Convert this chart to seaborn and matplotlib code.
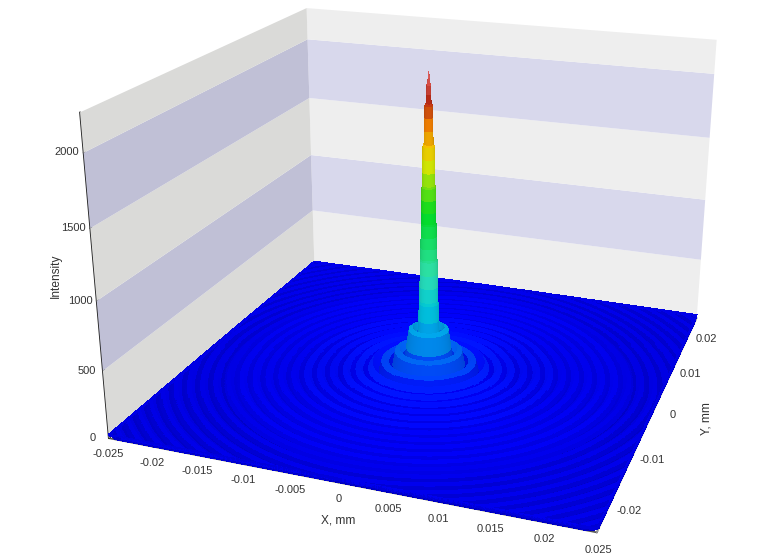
import numpy as np
import matplotlib
matplotlib.use("Agg")
import matplotlib.pyplot as plt
from matplotlib.colors import LinearSegmentedColormap
from matplotlib.transforms import offset_copy
from mpl_toolkits.mplot3d.art3d import Poly3DCollection
import seaborn as sns

x_ticks = [-0.025,-0.02,-0.015,-0.01,-0.005,0,0.005,0.01,0.015,0.02,0.025]
x_labels = ['-0.025','-0.02','-0.015','-0.01','-0.005','0','0.005','0.01','0.015','0.02','0.025']
y_ticks = [-0.02,-0.01,0,0.01,0.02]
y_labels = ['-0.02','-0.01','0','0.01','0.02']
z_ticks = [0,500,1000,1500,2000]
z_labels = ['0','500','1000','1500','2000']
z_top = 2260
band_edges = [0,500,1000,1500,2000,2260]
back_wall = ['#EEEEEE','#D8D8EC','#EEEEEE','#D8D8EC','#EEEEEE']
side_wall = ['#DADAD8','#C0C0D6','#DADAD8','#C0C0D6','#DADAD8']
extent = 0.025

# radial profile of the central peak and its first rings (mm, intensity)
centre_r = [0,.00004,.00008,.00016,.00020,.00024,.00036,.00039,.00042,.00045,.00057,.00060,.00062,.00064,.00068,.00070,.00072,.00074,.00077,.00079,.00081,.00083,.00088,.00090,.00092,.00094,.00100,.00106,.00114,.00125,
            .0016,.0018,.0021,.0024,.0027,.0029,.0032,.0036,.0039,.0041,.0044,.0047,.0051,.0054,.0055]
centre_z = [2265,2225,2190,2175,2110,2045,2030,1945,1850,1755,1740,1650,1550,1455,1440,1350,1260,1178,1163,1075,990,907,892,790,690,584,560,430,280,110,
            320,365,350,210,40,150,195,180,70,15,100,120,100,25,6]
# outer rings: crest, shoulder, trough, shoulder, ... stations
ring_r = [.0062,.00655,.0069,.00725,.0076,.00795,.0083,.00865,.0090,.00935,.0097,.01005,.0104,.01075,.0111,.01145,.0118,.01215,.0125,.01285,
          .0132,.01355,.0139,.01425,.0146,.01495,.0153,.01565,.0160,.01635,.0167,.01705,.0174,.01775,.0181,.01845,.0188,.01915,.0195,.01985,
          .0202,.02055,.0209,.02125,.0216,.02195,.0223,.02265,.0230,.02335,.0237,.02405,.0244,.02475,.0251,.02545,.0258,.02615,.0265,.02685,
          .0272,.02755,.0279,.02825,.0286,.02895,.0293,.02965,.0300,.03035,.0307,.03105,.0314,.03175,.0321,.03245,.0328,.03315,.0335,.03385,
          .0342,.03455,.0349,.03525,.0356]
ring_z = [90,47,4,40,75,39,3,34,65,33,2,30,58,30,2,27,52,26,1,25,
          48,24,1,23,45,23,1,22,42,21,1,21,40,20,1,20,38,19,0,18,
          36,18,0,18,35,18,0,17,34,17,0,17,33,17,0,16,32,16,0,16,
          31,16,0,15,30,15,0,15,30,15,0,15,29,15,0,15,29,14,0,14,
          28,14,0,14,28]
colour_levels = [0,10,25,50,100,190,340,540,800,1260,1635,1890,2070,2265]
colour_values = ['#0000D0','#0000E0','#0000F0','#0010FA','#0040F8','#0068F0','#00A0E8','#00C8D8','#30E0B0','#00DC20','#E6E600','#F08200','#B42814','#E06060']

sns.set_theme(style='white')
plt.rcParams['font.family']=['Liberation Sans','DejaVu Sans']
fig = plt.figure(figsize=(7.68,5.6),dpi=100,facecolor='white')
EL,AZ,FL,ZA,YA,S,L,B = 20.469,-69.900,0.3679,0.6758,0.9937,718.39,59.75,-37.46
ax = fig.add_axes([L/768,B/560,S/768,S/560],projection='3d',computed_zorder=False)
ax.set_box_aspect((1,YA,ZA))
ax.set_proj_type('persp',focal_length=FL)
ax.view_init(elev=EL,azim=AZ)
ax.set_xlim(-extent,extent); ax.set_ylim(-extent,extent); ax.set_zlim(0,z_top)
ax.patch.set_alpha(0)

for axis in (ax.xaxis,ax.yaxis,ax.zaxis):
    axis.set_pane_color((1,1,1,0))
    axis._axinfo['grid']['linewidth']=0
    axis._axinfo['grid']['color']=(1,1,1,0)
    axis.pane.set_edgecolor((1,1,1,0))
    axis._axinfo['tick']['inward_factor']=0
    axis._axinfo['tick']['outward_factor']=0.06
ax.xaxis.line.set_color('#555555'); ax.yaxis.line.set_color('#999999'); ax.zaxis.line.set_color('#222222')
ax.zaxis.set_ticks_position('lower'); ax.zaxis.set_label_position('lower')
ax.set_xticks(x_ticks,x_labels); ax.set_yticks(y_ticks,y_labels); ax.set_zticks(z_ticks,z_labels)
ax.tick_params(labelsize=8,colors='#333333',pad=-2)
ax.set_xlabel('X, mm',labelpad=-4,fontsize=8.6,color='#333333')
ax.set_ylabel('Y, mm',labelpad=-4,fontsize=8.6,color='#333333')
ax.set_zlabel('Intensity',labelpad=-4,fontsize=8.6,color='#333333')
ax.zaxis.set_rotate_label(False); ax.yaxis.set_rotate_label(False); ax.xaxis.set_rotate_label(False)
ax.yaxis.label.set_rotation(90); ax.zaxis.label.set_rotation(90); ax.xaxis.label.set_rotation(0)

def nudge(axis,tick_dx,tick_dy,label_dx,label_dy):
    # mplot3d resets label transforms on each draw, so re-apply the pixel offsets there
    tick_tr=offset_copy(ax.transData,fig=fig,x=tick_dx,y=tick_dy,units='dots')
    label_tr=offset_copy(ax.transData,fig=fig,x=label_dx,y=label_dy,units='dots')
    base_ticks=axis.get_major_ticks
    def get_major_ticks(numticks=None):
        ticks=base_ticks(numticks)
        for tick in ticks:
            tick.label1.set_transform(tick_tr)
        return ticks
    axis.get_major_ticks=get_major_ticks
    base_draw=axis.label.draw
    def draw(renderer):
        axis.label.set_transform(label_tr)
        base_draw(renderer)
    axis.label.draw=draw
nudge(ax.xaxis,5,1,13,-2)
nudge(ax.yaxis,8,8,23,14)
nudge(ax.zaxis,0,8,8,14)

for i in range(len(band_edges)-1):
    z0,z1=band_edges[i],band_edges[i+1]
    ax.add_collection3d(Poly3DCollection([[(-extent,extent,z0),(extent,extent,z0),(extent,extent,z1),(-extent,extent,z1)]],facecolor=back_wall[i],edgecolor='none',zorder=1))
    ax.add_collection3d(Poly3DCollection([[(-extent,-extent,z0),(-extent,extent,z0),(-extent,extent,z1),(-extent,-extent,z1)]],facecolor=side_wall[i],edgecolor='none',zorder=1))

radius=np.array(centre_r+ring_r); height=np.array(centre_z+ring_z,float)
theta=np.radians(np.arange(0,361,1.0))
R,TH=np.meshgrid(radius,theta,indexing='ij')
Z=np.repeat(height[:,None],theta.size,axis=1)
X=np.clip(R*np.cos(TH),-extent,extent); Y=np.clip(R*np.sin(TH),-extent,extent)

cm=LinearSegmentedColormap.from_list('h',[(l/colour_levels[-1],c) for l,c in zip(colour_levels,colour_values)])
zm=0.5*(Z[:-1,:-1]+Z[1:,:-1])
rgb=cm(np.clip(zm/colour_levels[-1],0,1))
dz=np.diff(height)[:,None]; dr=np.diff(radius)[:,None]
slope=(dz/z_top*ZA)/(dr/(2*extent))
thm=0.5*(TH[:-1,:-1]+TH[:-1,1:])
nx,ny=-slope*np.cos(thm),-slope*np.sin(thm); nn=np.sqrt(nx**2+ny**2+1)
a=np.radians(AZ)
t=(nx*np.cos(a)+ny*np.sin(a))/nn
sh=np.where(np.abs(slope)>3,0.86+0.14*np.abs(t),0.98+0.08*t)
rgb[...,:3]=np.clip(rgb[...,:3]*sh[...,None],0,1)
ax.plot_surface(X,Y,Z,facecolors=rgb,rstride=1,cstride=1,shade=False,linewidth=0.2,antialiased=False,zorder=2)
fig.savefig('out.png',dpi=100,facecolor='white')
